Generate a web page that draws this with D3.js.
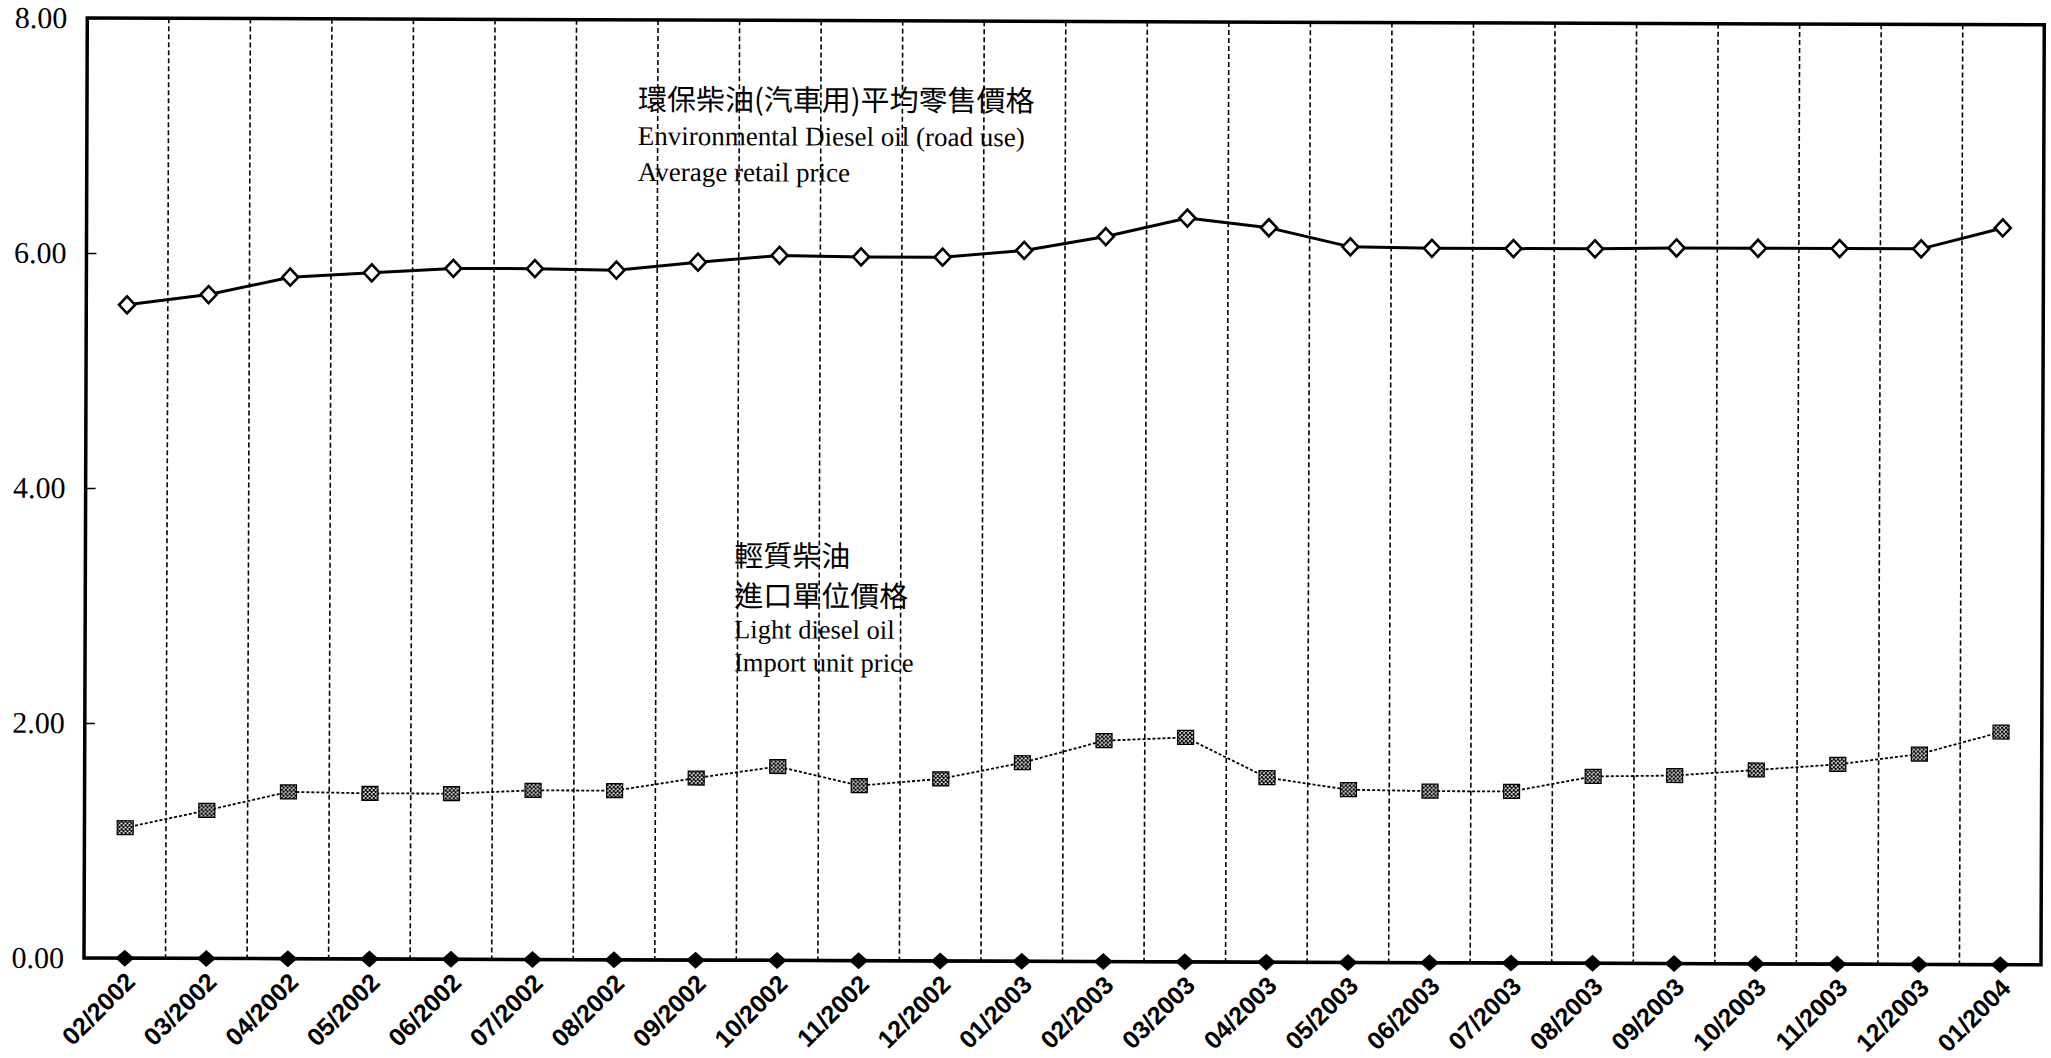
<!DOCTYPE html>
<html>
<head>
<meta charset="utf-8">
<script src="https://cdn.jsdelivr.net/npm/d3@7"></script>
<style>
  html, body { margin: 0; padding: 0; background: #fff; }
  svg { display: block; }
</style>
</head>
<body>
<svg id="chart"></svg>
<script>
// data
const months = [
  '02/2002', '03/2002', '04/2002', '05/2002', '06/2002', '07/2002', '08/2002', '09/2002',
  '10/2002', '11/2002', '12/2002', '01/2003', '02/2003', '03/2003', '04/2003', '05/2003',
  '06/2003', '07/2003', '08/2003', '09/2003', '10/2003', '11/2003', '12/2003', '01/2004'
];

const retailPrice = [
  5.56, 5.65, 5.80, 5.84, 5.88, 5.88, 5.87, 5.94,
  6.00, 5.99, 5.99, 6.05, 6.17, 6.33, 6.25, 6.09,
  6.08, 6.08, 6.08, 6.09, 6.09, 6.09, 6.09, 6.27
];

const importPrice = [
  1.11, 1.26, 1.42, 1.41, 1.41, 1.44, 1.44, 1.55,
  1.65, 1.49, 1.55, 1.69, 1.88, 1.91, 1.57, 1.47,
  1.46, 1.46, 1.59, 1.60, 1.65, 1.70, 1.79, 1.98
];

const baseSeries = [
  0, 0, 0, 0, 0, 0, 0, 0,
  0, 0, 0, 0, 0, 0, 0, 0,
  0, 0, 0, 0, 0, 0, 0, 0
];

const yTicks = [0, 2, 4, 6, 8];

const retailLabel = ['環保柴油(汽車用)平均零售價格', 'Environmental Diesel oil (road use)', 'Average retail price'];
const importLabel = ['輕質柴油', '進口單位價格', 'Light diesel oil', 'Import unit price'];

const width = 2051;
const height = 1058;
const margin = { top: 18, right: 10, bottom: 100, left: 84 };

const root = d3.select('#chart')
  .attr('width', width)
  .attr('height', height)
  .attr('viewBox', [0, 0, width, height]);

// the source page is scanned a touch crooked
const svg = root.append('g')
  .attr('transform', `rotate(0.2, ${margin.left}, ${height - margin.bottom})`);

const x = d3.scaleBand()
  .domain(months)
  .range([margin.left, width - margin.right]);

const y = d3.scaleLinear()
  .domain([0, 8])
  .range([height - margin.bottom, margin.top]);

const cx = d => x(d) + x.bandwidth() / 2;

// checker pattern for the import price markers
const pat = root.append('defs').append('pattern')
  .attr('id', 'checker')
  .attr('patternUnits', 'userSpaceOnUse')
  .attr('width', 4).attr('height', 4);
pat.append('rect').attr('width', 4).attr('height', 4).attr('fill', '#fff');
pat.append('rect').attr('width', 2.5).attr('height', 2.5).attr('fill', '#000');
pat.append('rect').attr('x', 2).attr('y', 2).attr('width', 2.5).attr('height', 2.5).attr('fill', '#000');

// dashed vertical grid between months
svg.append('g')
  .selectAll('line')
  .data(months.slice(1))
  .join('line')
  .attr('x1', d => x(d))
  .attr('x2', d => x(d))
  .attr('y1', y(8))
  .attr('y2', y(0))
  .attr('stroke', '#000')
  .attr('stroke-width', 1.6)
  .attr('stroke-dasharray', '5,3');

// y axis labels + small inward ticks
const yAxis = svg.append('g')
  .attr('transform', `translate(${margin.left},0)`)
  .call(d3.axisRight(y).tickValues(yTicks).tickSize(10).tickFormat(d3.format('.2f')));
yAxis.select('.domain').remove();
yAxis.selectAll('.tick line').attr('stroke', '#000').attr('stroke-width', 1.5);
yAxis.selectAll('.tick text')
  .attr('x', 64 - margin.left)
  .attr('text-anchor', 'end')
  .attr('font-family', '"Liberation Serif", "Times New Roman", serif')
  .attr('font-size', 30)
  .attr('fill', '#000');

// x axis labels, rotated
svg.append('g')
  .selectAll('text')
  .data(months)
  .join('text')
  .attr('transform', d => `translate(${cx(d) + 12},${y(0) + 25}) rotate(-45)`)
  .attr('text-anchor', 'end')
  .attr('font-family', '"Liberation Sans Narrow", "Arial Narrow", "Liberation Sans", sans-serif')
  .attr('font-weight', 'bold')
  .attr('font-size', 25)
  .attr('fill', '#000')
  .text(d => d);

// lines
const line = d3.line()
  .x((d, i) => cx(months[i]))
  .y(d => y(d));

svg.append('path')
  .datum(importPrice)
  .attr('fill', 'none')
  .attr('stroke', '#000')
  .attr('stroke-width', 1.8)
  .attr('stroke-dasharray', '3,2')
  .attr('d', line);

svg.append('path')
  .datum(retailPrice)
  .attr('fill', 'none')
  .attr('stroke', '#000')
  .attr('stroke-width', 3)
  .attr('d', line);

// frame
svg.append('rect')
  .attr('x', margin.left)
  .attr('y', y(8))
  .attr('width', width - margin.right - margin.left)
  .attr('height', y(0) - y(8))
  .attr('fill', 'none')
  .attr('stroke', '#000')
  .attr('stroke-width', 3.5);

svg.append('path')
  .datum(baseSeries)
  .attr('fill', 'none')
  .attr('stroke', '#000')
  .attr('stroke-width', 3)
  .attr('d', line);

// markers
const diamond = (s, h) => `M0,${-h}L${s},0L0,${h}L${-s},0Z`;

svg.append('g')
  .selectAll('path')
  .data(retailPrice)
  .join('path')
  .attr('transform', (d, i) => `translate(${cx(months[i])},${y(d)})`)
  .attr('d', diamond(8, 8.5))
  .attr('fill', '#fff')
  .attr('stroke', '#000')
  .attr('stroke-width', 2.6);

svg.append('g')
  .selectAll('rect')
  .data(importPrice)
  .join('rect')
  .attr('x', (d, i) => cx(months[i]) - 8)
  .attr('y', d => y(d) - 7)
  .attr('width', 16)
  .attr('height', 14)
  .attr('fill', 'url(#checker)')
  .attr('stroke', '#000')
  .attr('stroke-width', 1.2);

svg.append('g')
  .selectAll('path')
  .data(baseSeries)
  .join('path')
  .attr('transform', (d, i) => `translate(${cx(months[i])},${y(d)})`)
  .attr('d', diamond(9.5, 8.5))
  .attr('fill', '#000');

// series annotations
const cjkFont = '"Noto Sans CJK TC", "Noto Sans CJK SC", sans-serif';
const serifFont = '"Liberation Serif", "Times New Roman", serif';

const note1 = svg.append('text')
  .attr('fill', '#000');
note1.selectAll('tspan')
  .data(retailLabel)
  .join('tspan')
  .attr('x', 635)
  .attr('y', (d, i) => [108, 143, 179][i])
  .attr('font-family', (d, i) => i === 0 ? cjkFont : serifFont)
  .attr('font-size', (d, i) => i === 0 ? 29 : 27)
  .text(d => d);

const note2 = svg.append('text')
  .attr('fill', '#000');
note2.selectAll('tspan')
  .data(importLabel)
  .join('tspan')
  .attr('x', 733)
  .attr('y', (d, i) => [564, 604, 636, 669][i])
  .attr('font-family', (d, i) => i < 2 ? cjkFont : serifFont)
  .attr('font-size', (d, i) => i < 2 ? 29 : 26.5)
  .text(d => d);
</script>
</body>
</html>
